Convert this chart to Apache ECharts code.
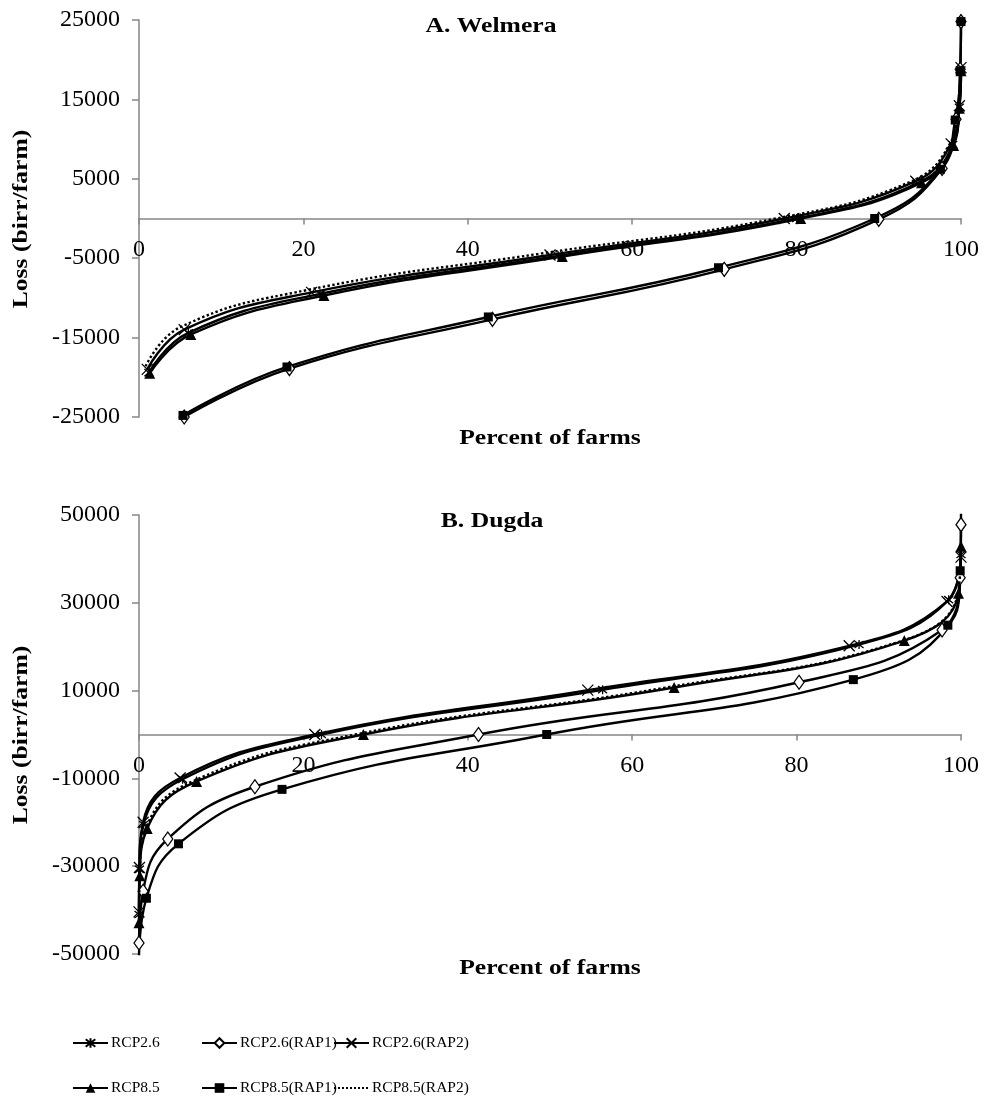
<!DOCTYPE html>
<html><head><meta charset="utf-8">
<script src="https://cdn.jsdelivr.net/npm/echarts@6/dist/echarts.min.js"></script>
<style>html,body{margin:0;padding:0;background:#fff}#c{width:984px;height:1098px}</style>
</head><body><div id="c"></div>
<script>
// ---------- data ----------
const seriesNames = ['RCP2.6', 'RCP2.6(RAP1)', 'RCP2.6(RAP2)', 'RCP8.5', 'RCP8.5(RAP1)', 'RCP8.5(RAP2)'];

// Welmera: [percent of farms, loss]
const welmeraRCP26     = [[1.2,-19400],[6,-14400],[22,-9500],[51,-4700],[80,0],[95,4600],[99,9300],[99.8,14000],[100,18700]];
const welmeraRCP26RAP1 = [[5.5,-25000],[18.3,-18900],[43,-12700],[71.2,-6400],[90,-100],[97.7,6300],[99.4,12500],[99.9,18800],[100,24800]];
const welmeraRCP26RAP2 = [[1.0,-19000],[5.5,-14000],[21,-9300],[50,-4600],[78.5,0],[94.5,4700],[98.8,9400],[99.8,14200],[100,19000]];
const welmeraRCP85     = [[1.3,-19500],[6.3,-14600],[22.5,-9700],[51.5,-4800],[80.5,0],[95.2,4500],[99.1,9200],[99.8,13900],[100,18600]];
const welmeraRCP85RAP1 = [[5.35,-24800],[18,-18700],[42.5,-12400],[70.5,-6200],[89.5,0],[97.5,6200],[99.3,12400],[99.9,18600],[100,24800]];
const welmeraRCP85RAP2 = [[0.8,-18600],[5,-13700],[20.5,-9000],[49,-4400],[77.5,0],[94,4700],[98.7,9500],[99.7,14300],[100,19100]];

// Dugda
const dugdaRCP26     = [[0,-41000],[0.05,-30700],[0.55,-20500],[5.3,-10200],[22.2,0],[56.4,10200],[87.6,20500],[98.5,30700],[100,41000]];
const dugdaRCP26RAP1 = [[0,-47500],[0.5,-35700],[3.5,-23800],[14.1,-11900],[41.3,0],[80.3,11900],[97.7,23800],[99.9,35700],[100,47800]];
const dugdaRCP26RAP2 = [[0,-40400],[0.05,-30300],[0.5,-20000],[5.0,-9900],[21.4,0],[54.6,10100],[86.4,20200],[98.3,30300],[100,40400]];
const dugdaRCP85     = [[0,-42900],[0.1,-32200],[1.0,-21400],[7.0,-10700],[27.3,0],[65.1,10700],[93.1,21400],[99.7,32200],[100,42900]];
const dugdaRCP85RAP1 = [[0,-50600],[0.9,-37300],[4.8,-24900],[17.4,-12500],[49.6,0],[86.9,12500],[98.4,24900],[99.9,37300],[100,50600]];
const dugdaRCP85RAP2 = [[0,-42500],[0.09,-31900],[0.9,-21200],[6.6,-10600],[26.3,0],[63.8,10600],[92.6,21200],[99.6,31900],[100,42500]];

const xTicks = [0, 20, 40, 60, 80, 100];
const welmeraYTicks = [-25000, -15000, -5000, 5000, 15000, 25000];
const dugdaYTicks = [-50000, -30000, -10000, 10000, 30000, 50000];

// ---------- styling ----------
const FONT = '"Liberation Serif", "Times New Roman", serif';
const AXIS_COLOR = '#868686';
const SYM_AST = 'path://M1,1L9,9M9,1L1,9M5,0L5,10';
const SYM_X = 'path://M0,0L10,10M10,0L0,10';

const styles = {
  'RCP2.6':       {symbol: SYM_AST, symbolSize: 9, itemStyle: {color: '#000', borderColor: '#000', borderWidth: 1.3}, lineStyle: {width: 2.4, color: '#000'}},
  'RCP2.6(RAP1)': {symbol: 'diamond', symbolSize: [10, 14], itemStyle: {color: '#fff', borderColor: '#000', borderWidth: 1.3}, lineStyle: {width: 2.4, color: '#000'}},
  'RCP2.6(RAP2)': {symbol: SYM_X, symbolSize: 11, itemStyle: {color: '#000', borderColor: '#000', borderWidth: 1.3}, lineStyle: {width: 2.4, color: '#000'}},
  'RCP8.5':       {symbol: 'triangle', symbolSize: 11, itemStyle: {color: '#000', borderColor: '#000', borderWidth: 0}, lineStyle: {width: 2.4, color: '#000'}},
  'RCP8.5(RAP1)': {symbol: 'rect', symbolSize: 9, itemStyle: {color: '#000', borderColor: '#000', borderWidth: 0}, lineStyle: {width: 2.4, color: '#000'}},
  'RCP8.5(RAP2)': {symbol: 'none', itemStyle: {color: '#000'}, lineStyle: {width: 2.4, color: '#000', type: 'dotted'}}
};

const welmeraData = [welmeraRCP26, welmeraRCP26RAP1, welmeraRCP26RAP2, welmeraRCP85, welmeraRCP85RAP1, welmeraRCP85RAP2];
const dugdaData = [dugdaRCP26, dugdaRCP26RAP1, dugdaRCP26RAP2, dugdaRCP85, dugdaRCP85RAP1, dugdaRCP85RAP2];

function makeSeries(dataList, idx) {
  return seriesNames.map((name, i) => Object.assign({
    name: name,
    type: 'line',
    xAxisIndex: idx,
    yAxisIndex: idx,
    data: dataList[i],
    smooth: 0.45,
    showAllSymbol: true,
    clip: true,
    animation: false,
    silent: true,
    z: i === 5 ? 5 : 3
  }, JSON.parse(JSON.stringify(styles[name]))));
}

// grid geometry (pixels)
const GRID_LEFT = 139, GRID_W = 822;
const G1_TOP = 20, G1_H = 397;
const G2_TOP = 515, G2_H = 439;

function xAxis(gridIndex, gridH) {
  return {
    type: 'value', gridIndex: gridIndex, min: 0, max: 100, interval: 20,
    position: 'bottom',
    offset: -gridH / 2,   // axis line crosses the vertical axis at y = 0 (middle of a symmetric range)
    axisLine: {onZero: false, lineStyle: {color: AXIS_COLOR, width: 1.5}},
    axisTick: {show: true, length: 6, lineStyle: {color: AXIS_COLOR, width: 1.5}},
    axisLabel: {fontFamily: FONT, fontSize: 24, color: '#000', margin: 19, hideOverlap: false},
    splitLine: {show: false}
  };
}
function yAxis(gridIndex, min, max, ticks) {
  return {
    type: 'value', gridIndex: gridIndex, min: min, max: max,
    axisLine: {show: true, onZero: false, lineStyle: {color: AXIS_COLOR, width: 1.5}},
    axisTick: {show: true, length: 7, lineStyle: {color: AXIS_COLOR, width: 1.5}, customValues: ticks},
    axisLabel: {fontFamily: FONT, fontSize: 24, color: '#000', margin: 19, customValues: ticks,
      formatter: v => String(v)},
    splitLine: {show: false}
  };
}

const legendPos = [
  [72, 1035], [201, 1035], [333, 1035],
  [72, 1080], [201, 1080], [333, 1080]
];
const legends = seriesNames.map((n, i) => {
  const lg = {
    data: [n],
    left: legendPos[i][0], top: legendPos[i][1],
    itemWidth: 35, itemHeight: 12, itemGap: 0,
    textStyle: {fontFamily: FONT, fontSize: 15.5, color: '#000', padding: [0, 0, 0, -2]},
    selectedMode: false, padding: 0
  };
  if (i === 5) {
    // dotted line only, no marker
    lg.itemStyle = {color: 'rgba(0,0,0,0)', borderColor: 'rgba(0,0,0,0)', borderWidth: 0};
  }
  return lg;
});

function text(str, x, y, size, rot, sx) {
  return {type: 'text', x: x, y: y, rotation: rot || 0, scaleX: sx || 1,
    style: {text: str, fill: '#000', font: 'bold ' + size + 'px ' + FONT, align: 'center', verticalAlign: 'middle'}};
}

const option = {
  backgroundColor: '#fff',
  animation: false,
  grid: [
    {left: GRID_LEFT, top: G1_TOP, width: GRID_W, height: G1_H},
    {left: GRID_LEFT, top: G2_TOP, width: GRID_W, height: G2_H}
  ],
  xAxis: [xAxis(0, G1_H), xAxis(1, G2_H)],
  yAxis: [yAxis(0, -25000, 25000, welmeraYTicks), yAxis(1, -50000, 50000, dugdaYTicks)],
  legend: legends,
  graphic: [
    text('A. Welmera', 491, 27, 21, 0, 1.22),
    text('B. Dugda', 492, 522, 21, 0, 1.22),
    text('Percent of farms', 550, 439, 21, 0, 1.22),
    text('Percent of farms', 550, 969, 21, 0, 1.22),
    text('Loss (birr/farm)', 22, 219, 21, Math.PI / 2, 1.22),
    text('Loss (birr/farm)', 22, 735, 21, Math.PI / 2, 1.22)
  ],
  series: makeSeries(welmeraData, 0).concat(makeSeries(dugdaData, 1))
};

const chart = echarts.init(document.getElementById('c'), null, {renderer: 'canvas'});
chart.setOption(option);
</script></body></html>
